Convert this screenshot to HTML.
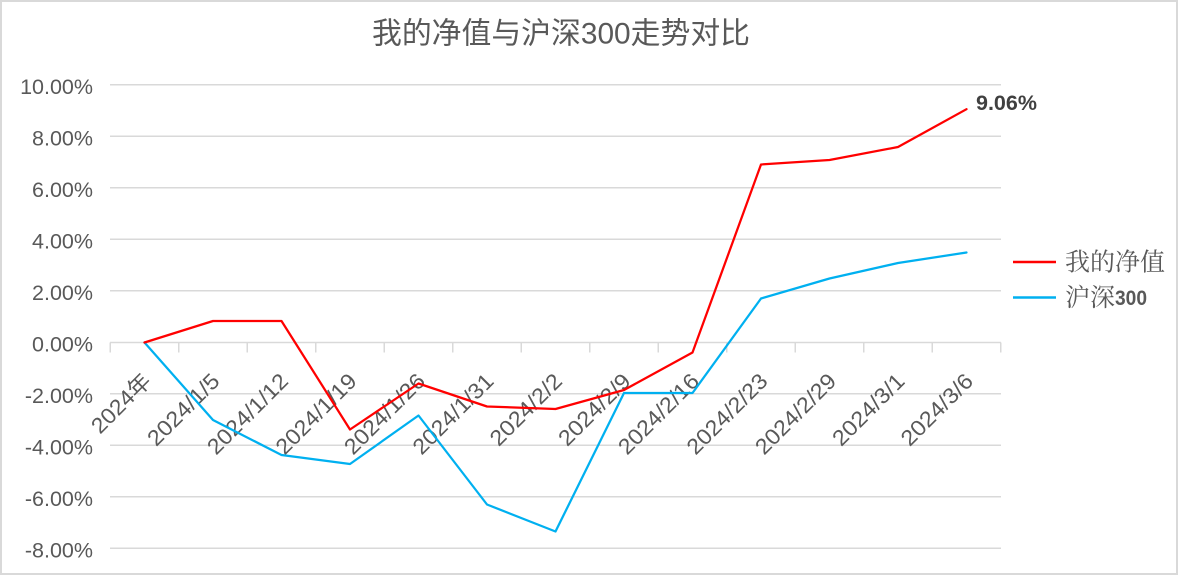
<!DOCTYPE html>
<html>
<head>
<meta charset="utf-8">
<style>
  html, body { margin: 0; padding: 0; background: #ffffff; }
  body { width: 1179px; height: 576px; overflow: hidden; }
  svg { display: block; }
  .ylab { font-family: "Liberation Sans", "Noto Sans CJK SC", sans-serif; font-size: 21.5px; fill: #595959; }
  .xlab { font-family: "Liberation Sans", "Noto Sans CJK SC", sans-serif; font-size: 22px; fill: #595959; }
  .title { font-family: "Liberation Sans", "Noto Sans CJK SC", sans-serif; font-size: 30px; fill: #595959; }
  .leg { font-family: "Liberation Sans", "Noto Serif CJK SC", "Noto Sans CJK SC", serif; font-size: 25px; fill: #595959; }
  .legnum { font-family: "Liberation Sans", sans-serif; font-size: 21px; font-weight: bold; fill: #595959; }
  .dlab { font-family: "Liberation Sans", sans-serif; font-size: 21.5px; font-weight: bold; fill: #404040; }
</style>
</head>
<body>
<svg width="1179" height="576" viewBox="0 0 1179 576" xmlns="http://www.w3.org/2000/svg">
  <rect x="0" y="0" width="1179" height="576" fill="#ffffff"/>
  <rect x="1" y="1" width="1176" height="573" fill="none" stroke="#D9D9D9" stroke-width="2"/>

  <!-- title -->
  <text class="title" x="372" y="34" dominant-baseline="central" textLength="378" lengthAdjust="spacingAndGlyphs">我的净值与沪深300走势对比</text>

  <!-- gridlines -->
  <g stroke="#D9D9D9" stroke-width="1.5">
    <line x1="110" y1="84.8" x2="1001" y2="84.8"/>
    <line x1="110" y1="136.3" x2="1001" y2="136.3"/>
    <line x1="110" y1="187.8" x2="1001" y2="187.8"/>
    <line x1="110" y1="239.3" x2="1001" y2="239.3"/>
    <line x1="110" y1="290.8" x2="1001" y2="290.8"/>
    <line x1="110" y1="342.5" x2="1001" y2="342.5"/>
    <line x1="110" y1="393.8" x2="1001" y2="393.8"/>
    <line x1="110" y1="445.3" x2="1001" y2="445.3"/>
    <line x1="110" y1="496.8" x2="1001" y2="496.8"/>
    <line x1="110" y1="548.3" x2="1001" y2="548.3"/>
    <!-- ticks -->
    <line x1="110.25" y1="342.5" x2="110.25" y2="352.5"/>
    <line x1="178.75" y1="342.5" x2="178.75" y2="352.5"/>
    <line x1="247.25" y1="342.5" x2="247.25" y2="352.5"/>
    <line x1="315.75" y1="342.5" x2="315.75" y2="352.5"/>
    <line x1="384.25" y1="342.5" x2="384.25" y2="352.5"/>
    <line x1="452.75" y1="342.5" x2="452.75" y2="352.5"/>
    <line x1="521.25" y1="342.5" x2="521.25" y2="352.5"/>
    <line x1="589.75" y1="342.5" x2="589.75" y2="352.5"/>
    <line x1="658.25" y1="342.5" x2="658.25" y2="352.5"/>
    <line x1="726.75" y1="342.5" x2="726.75" y2="352.5"/>
    <line x1="795.25" y1="342.5" x2="795.25" y2="352.5"/>
    <line x1="863.75" y1="342.5" x2="863.75" y2="352.5"/>
    <line x1="932.25" y1="342.5" x2="932.25" y2="352.5"/>
    <line x1="1000.75" y1="342.5" x2="1000.75" y2="352.5"/>
  </g>

  <!-- y labels -->
  <g class="ylab" text-anchor="end">
    <text x="93" y="94">10.00%</text>
    <text x="93" y="145.5">8.00%</text>
    <text x="93" y="197">6.00%</text>
    <text x="93" y="248.5">4.00%</text>
    <text x="93" y="300">2.00%</text>
    <text x="93" y="351.5">0.00%</text>
    <text x="93" y="403">-2.00%</text>
    <text x="93" y="454.5">-4.00%</text>
    <text x="93" y="506">-6.00%</text>
    <text x="93" y="557.5">-8.00%</text>
  </g>

  <!-- x labels -->
  <g class="xlab" text-anchor="end">
    <text x="152.5" y="382.5" transform="rotate(-45 152.5 382.5)" textLength="74" lengthAdjust="spacingAndGlyphs">2024年</text>
    <text x="221" y="382.5" transform="rotate(-45 221 382.5)" textLength="91.5" lengthAdjust="spacingAndGlyphs">2024/1/5</text>
    <text x="289.5" y="382.5" transform="rotate(-45 289.5 382.5)" textLength="103.7" lengthAdjust="spacingAndGlyphs">2024/1/12</text>
    <text x="358" y="382.5" transform="rotate(-45 358 382.5)" textLength="103.7" lengthAdjust="spacingAndGlyphs">2024/1/19</text>
    <text x="426.5" y="382.5" transform="rotate(-45 426.5 382.5)" textLength="103.7" lengthAdjust="spacingAndGlyphs">2024/1/26</text>
    <text x="495" y="382.5" transform="rotate(-45 495 382.5)" textLength="103.7" lengthAdjust="spacingAndGlyphs">2024/1/31</text>
    <text x="563.5" y="382.5" transform="rotate(-45 563.5 382.5)" textLength="91.5" lengthAdjust="spacingAndGlyphs">2024/2/2</text>
    <text x="632" y="382.5" transform="rotate(-45 632 382.5)" textLength="91.5" lengthAdjust="spacingAndGlyphs">2024/2/9</text>
    <text x="700.5" y="382.5" transform="rotate(-45 700.5 382.5)" textLength="103.7" lengthAdjust="spacingAndGlyphs">2024/2/16</text>
    <text x="769" y="382.5" transform="rotate(-45 769 382.5)" textLength="103.7" lengthAdjust="spacingAndGlyphs">2024/2/23</text>
    <text x="837.5" y="382.5" transform="rotate(-45 837.5 382.5)" textLength="103.7" lengthAdjust="spacingAndGlyphs">2024/2/29</text>
    <text x="906" y="382.5" transform="rotate(-45 906 382.5)" textLength="91.5" lengthAdjust="spacingAndGlyphs">2024/3/1</text>
    <text x="974.5" y="382.5" transform="rotate(-45 974.5 382.5)" textLength="91.5" lengthAdjust="spacingAndGlyphs">2024/3/6</text>
  </g>

  <!-- series: 沪深300 -->
  <polyline fill="none" stroke="#00B0F0" stroke-width="2.25" stroke-linejoin="round" stroke-linecap="round"
    points="144.5,342.5 213,420 281.5,455 350,464 418.5,415.5 487,504.5 555.5,531.5 624,393 692.5,393 761,298.5 829.5,278.5 898,263 966.5,252.5"/>
  <!-- series: 我的净值 -->
  <polyline fill="none" stroke="#FF0000" stroke-width="2.25" stroke-linejoin="round" stroke-linecap="round"
    points="144.5,342.5 213,321 281.5,321 350,429.5 418.5,383.5 487,406.5 555.5,409 624,390 692.5,352.5 761,164.5 829.5,160 898,147 966.5,109.2"/>

  <!-- data label -->
  <text class="dlab" x="976" y="110">9.06%</text>

  <!-- legend -->
  <line x1="1013" y1="262" x2="1056" y2="262" stroke="#FF0000" stroke-width="2.5"/>
  <text class="leg" x="1065" y="262.5" dominant-baseline="central">我的净值</text>
  <line x1="1013" y1="297.5" x2="1056" y2="297.5" stroke="#00B0F0" stroke-width="2.5"/>
  <text class="leg" x="1065" y="298" dominant-baseline="central">沪深</text>
  <text class="legnum" x="1115" y="305" textLength="32" lengthAdjust="spacingAndGlyphs">300</text>
</svg>
</body>
</html>
